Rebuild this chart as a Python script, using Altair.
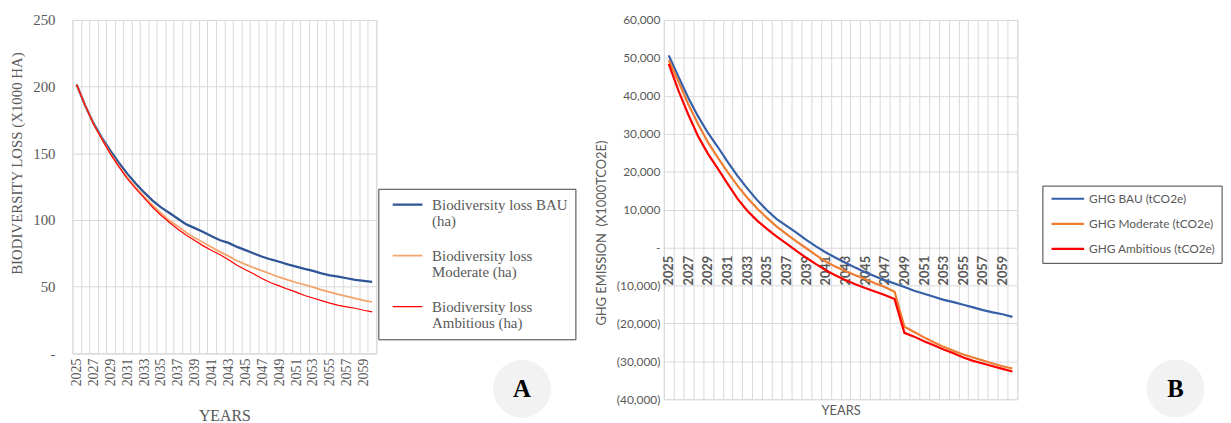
import altair as alt
import pandas as pd

years = list(range(2025, 2061))

bio_names = ["Biodiversity loss BAU (ha)", "Biodiversity loss Moderate (ha)", "Biodiversity loss Ambitious (ha)"]
bio_lines = [["Biodiversity loss BAU", "(ha)"], ["Biodiversity loss", "Moderate (ha)"], ["Biodiversity loss", "Ambitious (ha)"]]
bio_bau = [201.6, 186.0, 172.6, 161.5, 152.0, 142.9, 134.7, 127.3, 120.6, 114.4, 109.4, 105.2,
           100.8, 96.6, 93.8, 90.9, 87.7, 84.7, 82.7, 79.7, 77.3, 74.8, 72.3, 70.3,
           68.6, 66.6, 64.9, 63.2, 61.7, 59.9, 58.4, 57.5, 56.2, 55.0, 54.2, 53.5]
bio_mod = [201.6, 186.0, 172.0, 160.5, 150.0, 140.5, 132.0, 124.5, 117.5, 111.0, 105.0, 99.5,
           95.0, 90.5, 86.5, 83.0, 79.5, 76.0, 72.8, 69.3, 66.6, 64.1, 61.7, 59.4,
           57.0, 55.0, 53.0, 51.3, 49.5, 47.5, 45.8, 44.1, 42.6, 41.1, 39.6, 38.4]
bio_amb = [201.6, 186.0, 172.0, 160.5, 149.5, 140.0, 131.0, 123.5, 116.5, 109.5, 103.5, 98.0,
           93.0, 88.5, 84.5, 80.5, 77.0, 73.8, 70.0, 66.0, 62.6, 59.4, 55.8, 52.8,
           50.5, 48.0, 45.8, 43.3, 41.4, 39.4, 37.5, 35.8, 34.7, 33.7, 32.2, 31.0]

ghg_names = ["GHG BAU (tCO2e)", "GHG Moderate (tCO2e)", "GHG Ambitious (tCO2e)"]
ghg_bau = [50650, 45000, 39400, 34500, 30200, 26500, 22600, 18900, 15600, 12500, 9800, 7500,
           5700, 3900, 2000, 300, -1300, -2700, -4000, -5300, -6500, -7600, -8600, -9500,
           -10400, -11400, -12200, -13000, -13800, -14400, -15100, -15800, -16500, -17100, -17600, -18300]
ghg_mod = [49400, 43700, 37700, 32500, 27700, 23700, 19900, 16300, 13100, 10300, 7800, 5500,
           3500, 1600, -200, -2000, -3700, -5100, -6200, -7300, -8300, -9400, -10400, -11700,
           -20900, -22300, -23700, -25000, -26200, -27200, -28200, -29000, -29800, -30600, -31300, -31900]
ghg_amb = [48400, 41300, 35000, 29300, 24700, 20800, 16800, 12900, 9700, 7100, 4900, 2900,
           1000, -900, -2700, -4400, -6000, -7400, -8600, -9700, -10700, -11600, -12500, -13600,
           -22500, -23500, -24700, -25800, -26900, -27900, -29000, -29900, -30600, -31300, -32000, -32700]

bio_ticks = [0, 50, 100, 150, 200, 250]
ghg_ticks = [-40000, -30000, -20000, -10000, 0, 10000, 20000, 30000, 40000, 50000, 60000]

GRID = "#d9d9d9"
TXT = "#595959"
SERIF = "Liberation Serif"
SANS = "Lato"

bounds = [y - 0.5 for y in years] + [years[-1] + 0.5]
x_label_expr = "datum.value < 2060 && (datum.value + 0.5) % 2 == 1 ? format(datum.value + 0.5, 'd') : ''"

dfA = pd.DataFrame({
    "year": years * 3,
    "value": bio_bau + bio_mod + bio_amb,
    "series": [n for n in bio_names for _ in years],
})
dfB = pd.DataFrame({
    "year": years * 3,
    "value": ghg_bau + ghg_mod + ghg_amb,
    "series": [n for n in ghg_names for _ in years],
})

legend_expr_parts = []
for name, lines in zip(bio_names, bio_lines):
    legend_expr_parts.append("datum.label == '%s' ? ['%s', '%s']" % (name, lines[0], lines[1]))
bio_legend_expr = " : ".join(legend_expr_parts) + " : datum.label"

wA, hA = 307, 336.5
wB, hB = 357, 383

xA = alt.X("year:Q", scale=alt.Scale(domain=[bounds[0], bounds[-1]], nice=False, zero=False),
           axis=alt.Axis(values=bounds, grid=True, gridColor=GRID, domain=False, ticks=False,
                         labelExpr=x_label_expr, labelAngle=270, labelOffset=wA / 72,
                         labelPadding=5, labelFont=SERIF, labelFontSize=14, labelColor=TXT,
                         labelFlush=False, labelOverlap=False,
                         title="YEARS", titleFont=SERIF, titleFontSize=16, titleFontWeight="normal",
                         titleColor=TXT, titleY=68.5, titleBaseline="alphabetic"))
yA = alt.Y("value:Q", scale=alt.Scale(domain=[0, 250], nice=False),
           axis=alt.Axis(values=bio_ticks, grid=True, gridColor=GRID, domain=False, ticks=False,
                         labelExpr="datum.value == 0 ? '-' : format(datum.value, 'd')",
                         labelPadding=17.5, labelFont=SERIF, labelFontSize=15, labelColor=TXT,
                         title="BIODIVERSITY LOSS (X1000 HA)", titleFont=SERIF, titleFontSize=15,
                         titleFontWeight="normal", titleColor=TXT, titleX=-56, titleY=144.5,
                         titleAngle=270, titleBaseline="middle", titleAlign="center"))

linesA = alt.Chart(dfA).mark_line().encode(
    x=xA, y=yA,
    color=alt.Color("series:N", sort=bio_names,
                    scale=alt.Scale(domain=bio_names, range=["#2F5597", "#F4A36A", "#FF0000"]),
                    legend=alt.Legend(orient="none", legendX=309, legendY=170.5, title=None,
                                      strokeColor="#404040", fillColor="white", padding=8,
                                      symbolType="stroke", symbolSize=900, symbolStrokeWidth=1.6,
                                      symbolOffset=5, clipHeight=16,
                                      labelFont=SERIF, labelFontSize=15, labelColor=TXT,
                                      labelExpr=bio_legend_expr, labelOffset=8.3, labelLimit=300,
                                      rowPadding=18.5)),
    strokeWidth=alt.StrokeWidth("series:N", sort=bio_names,
                                scale=alt.Scale(domain=bio_names, range=[2.3, 1.2, 1.2]),
                                legend=None),
)

badgeA_df = pd.DataFrame({"t": ["A"]})
badgeA = alt.Chart(badgeA_df).mark_circle(size=3420, color="#f2f2f2", opacity=1).encode(
    x=alt.value(454), y=alt.value(372.5))
badgeA_t = alt.Chart(badgeA_df).mark_text(font=SERIF, fontSize=25, fontWeight="bold", color="black").encode(
    x=alt.value(454), y=alt.value(373), text="t:N")

chartA = alt.layer(badgeA, badgeA_t, linesA).properties(width=wA, height=hA)

xB = alt.X("year:Q", scale=alt.Scale(domain=[bounds[0], bounds[-1]], nice=False, zero=False),
           axis=alt.Axis(values=bounds, grid=True, gridColor=GRID, domain=False, ticks=False,
                         offset=-153.4,
                         labelExpr=x_label_expr, labelAngle=270, labelOffset=wB / 72,
                         labelPadding=8, labelFont=SANS, labelFontSize=13, labelFontWeight="bold",
                         labelColor=TXT, labelFlush=False, labelOverlap=False,
                         title="YEARS", titleFont=SANS, titleFontSize=13, titleFontWeight="normal",
                         titleColor=TXT, titleY=169, titleBaseline="alphabetic"))
yB = alt.Y("value:Q", scale=alt.Scale(domain=[-40000, 60000], nice=False),
           axis=alt.Axis(values=ghg_ticks, grid=True, gridColor=GRID, domain=False, ticks=False,
                         labelExpr="datum.value < 0 ? '(' + format(-datum.value, ',') + ')' : (datum.value == 0 ? '-' : format(datum.value, ','))",
                         labelPadding=4, labelFont=SANS, labelFontSize=12, labelColor=TXT,
                         title="GHG EMISSION\u00a0 (X1000TCO2E)", titleFont=SANS, titleFontSize=13,
                         titleFontWeight="normal", titleColor=TXT, titleX=-62.5, titleY=214.8,
                         titleAngle=270, titleBaseline="middle", titleAlign="center"))

linesB = alt.Chart(dfB).mark_line(strokeWidth=2.2).encode(
    x=xB, y=yB,
    color=alt.Color("series:N", sort=ghg_names,
                    scale=alt.Scale(domain=ghg_names, range=["#3560A8", "#ED7D31", "#FF0000"]),
                    legend=alt.Legend(orient="none", legendX=382.3, legendY=167.3, title=None,
                                      strokeColor="#404040", fillColor="white", padding=6.3,
                                      symbolType="stroke", symbolSize=1089, symbolStrokeWidth=2.2,
                                      symbolOffset=1.4, clipHeight=14,
                                      labelFont=SANS, labelFontSize=12, labelColor=TXT,
                                      labelOffset=3.4, labelLimit=300, rowPadding=11.3)),
)

badgeB_df = pd.DataFrame({"t": ["B"]})
badgeB = alt.Chart(badgeB_df).mark_circle(size=3420, color="#f2f2f2", opacity=1).encode(
    x=alt.value(516.7), y=alt.value(372.3))
badgeB_t = alt.Chart(badgeB_df).mark_text(font=SERIF, fontSize=25, fontWeight="bold", color="black").encode(
    x=alt.value(516.7), y=alt.value(373), text="t:N")

chartB = alt.layer(badgeB, badgeB_t, linesB).properties(width=wB, height=hB)

chart = alt.hconcat(chartA, chartB, spacing=290.3, bounds="flush").resolve_scale(
    color="independent", strokeWidth="independent"
).properties(
    padding={"left": 1, "top": 2, "right": 0, "bottom": 0}
).configure_view(stroke=None).configure(background="white")

chart.save("out.html", embed_options={"renderer": "svg", "actions": False})
